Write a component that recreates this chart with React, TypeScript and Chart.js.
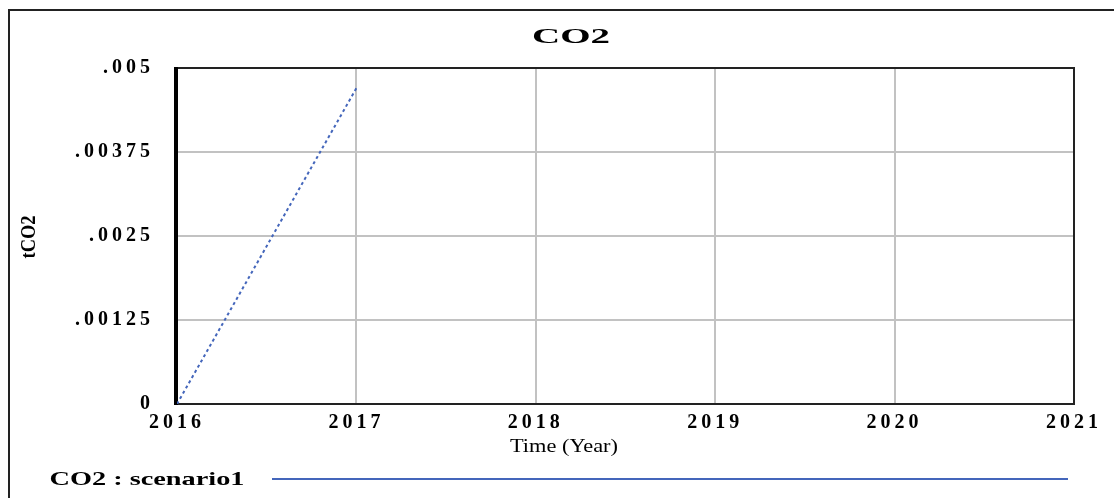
import React, { useEffect, useRef } from 'react';
import { Chart, registerables } from 'chart.js';

Chart.register(...registerables);

const chartTitle = 'CO2';
const xAxisTitle = 'Time (Year)';
const yAxisTitle = 'tCO2';
const seriesLabel = 'CO2 : scenario1';

const years = [2016, 2017];
const co2Values = [0, 0.0047];

const xTickValues = [2016, 2017, 2018, 2019, 2020, 2021];
const xTickLabels = ['2016', '2017', '2018', '2019', '2020', '2021'];
const yTickValues = [0, 0.00125, 0.0025, 0.00375, 0.005];
const yTickLabels = ['0', '.00125', '.0025', '.00375', '.005'];

const LINE_COLOR = '#4466bb';
const GRID_COLOR = '#c2c2c2';
const TICK_SPACING = '4px';

function drawFitted(
  ctx: CanvasRenderingContext2D,
  text: string,
  cx: number,
  cy: number,
  width: number,
  font: string,
  rotate = 0
) {
  ctx.save();
  (ctx as any).letterSpacing = '0px';
  ctx.font = font;
  ctx.fillStyle = '#000';
  const w = ctx.measureText(text).width;
  ctx.translate(cx, cy);
  if (rotate) ctx.rotate(rotate);
  ctx.scale(width / w, 1);
  ctx.textAlign = 'center';
  ctx.textBaseline = 'middle';
  ctx.fillText(text, 0, 0);
  ctx.restore();
}

const vensimPlugin = {
  id: 'vensimFrame',
  beforeDraw(chart: any) {
    const ctx = chart.ctx as CanvasRenderingContext2D;
    (ctx as any).letterSpacing = TICK_SPACING;
    ctx.save();
    ctx.strokeStyle = '#222';
    ctx.lineWidth = 2;
    ctx.beginPath();
    ctx.moveTo(9, 498);
    ctx.lineTo(9, 10);
    ctx.lineTo(1114, 10);
    ctx.stroke();
    ctx.restore();
  },
  beforeDatasetsDraw(chart: any) {
    const ctx = chart.ctx as CanvasRenderingContext2D;
    const { left, right, top, bottom } = chart.chartArea;
    ctx.save();
    ctx.strokeStyle = '#222';
    ctx.lineWidth = 2;
    ctx.beginPath();
    ctx.moveTo(left, top);
    ctx.lineTo(right, top);
    ctx.lineTo(right, bottom);
    ctx.lineTo(left, bottom);
    ctx.stroke();
    ctx.strokeStyle = '#000';
    ctx.lineWidth = 4;
    ctx.beginPath();
    ctx.moveTo(left - 1, top - 1);
    ctx.lineTo(left - 1, bottom + 1);
    ctx.stroke();
    ctx.restore();
  },
  afterDraw(chart: any) {
    const ctx = chart.ctx as CanvasRenderingContext2D;
    drawFitted(ctx, chartTitle, 571, 38, 78, 'bold 20px "Liberation Serif"');
    drawFitted(ctx, xAxisTitle, 564, 447, 108, '18px "Liberation Serif"');
    drawFitted(ctx, yAxisTitle, 30, 237, 43, 'bold 20px "Liberation Serif"', -Math.PI / 2);
    drawFitted(ctx, chart.data.datasets[0].label, 147, 480, 195, 'bold 19px "Liberation Serif"');
    ctx.save();
    ctx.strokeStyle = chart.data.datasets[0].borderColor;
    ctx.lineWidth = 2;
    ctx.beginPath();
    ctx.moveTo(272, 479);
    ctx.lineTo(1068, 479);
    ctx.stroke();
    ctx.restore();
  },
};

export default function App() {
  const canvasRef = useRef<HTMLCanvasElement | null>(null);

  useEffect(() => {
    if (!canvasRef.current) return;
    const tickFont = { family: '"Liberation Serif"', size: 20, weight: 'bold' as const };
    const chart = new Chart(canvasRef.current, {
      type: 'line',
      data: {
        datasets: [
          {
            label: seriesLabel,
            data: years.map((x, i) => ({ x, y: co2Values[i] })),
            borderColor: LINE_COLOR,
            borderWidth: 2,
            borderDash: [3, 3],
            pointRadius: 0,
            fill: false,
            tension: 0,
          },
        ],
      },
      options: {
        responsive: false,
        animation: false,
        devicePixelRatio: 1,
        layout: { padding: { top: 68, right: 40, left: 0, bottom: 0 } },
        plugins: {
          legend: { display: false },
          title: { display: false },
          tooltip: { enabled: false },
        },
        scales: {
          x: {
            type: 'linear',
            min: 2016,
            max: 2021,
            afterBuildTicks: (s: any) => {
              s.ticks = xTickValues.map((v) => ({ value: v }));
            },
            afterFit: (s: any) => {
              s.height = 94;
            },
            ticks: {
              callback: (_v: any, i: number) => xTickLabels[i],
              autoSkip: false,
              maxRotation: 0,
              minRotation: 0,
              padding: 7,
              color: '#000',
              font: tickFont,
            },
            grid: { color: GRID_COLOR, lineWidth: 2, drawTicks: false },
            border: { display: false },
          },
          y: {
            type: 'linear',
            min: 0,
            max: 0.005,
            afterBuildTicks: (s: any) => {
              s.ticks = yTickValues.map((v) => ({ value: v }));
            },
            afterFit: (s: any) => {
              s.width = 177;
            },
            ticks: {
              callback: (_v: any, i: number) => yTickLabels[i],
              autoSkip: false,
              padding: 23,
              color: '#000',
              font: tickFont,
            },
            grid: { color: GRID_COLOR, lineWidth: 2, drawTicks: false },
            border: { display: false },
          },
        },
      },
      plugins: [vensimPlugin],
    } as any);
    return () => chart.destroy();
  }, []);

  return (
    <div style={{ position: 'absolute', left: 0, top: 0, width: 1114, height: 498, background: '#fff' }}>
      <canvas ref={canvasRef} width={1114} height={498} style={{ display: 'block' }} />
    </div>
  );
}
